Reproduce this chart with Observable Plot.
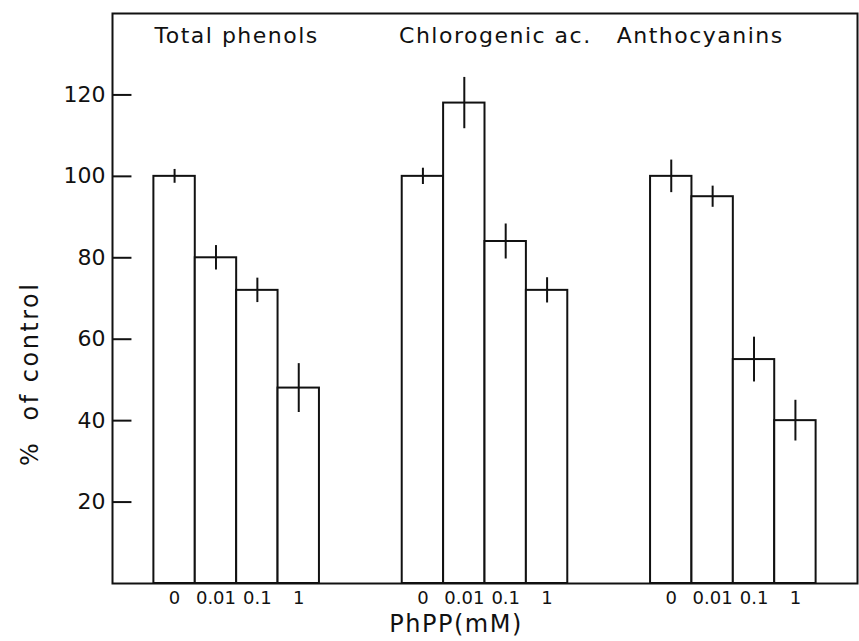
<!DOCTYPE html>
<html>
<head>
<meta charset="utf-8">
<script src="https://cdn.jsdelivr.net/npm/d3@7"></script>
<script src="https://cdn.jsdelivr.net/npm/@observablehq/plot@0.6"></script>
<style>
  html, body { margin: 0; padding: 0; background: #fff; }
  #chart svg { display: block; }
</style>
</head>
<body>
<div id="chart"></div>
<script>
// ---- data ----
const groups = ["Total phenols", "Chlorogenic ac.", "Anthocyanins"];
const doses = ["0", "0.01", "0.1", "1"];
const totalPhenols = [100, 80, 72, 48];
const chlorogenic = [100, 118, 84, 72];
const anthocyanins = [100, 95, 55, 40];
const errTotalPhenols = [1.7, 3, 3, 6];
const errChlorogenic = [2, 6.3, 4.3, 3.1];
const errAnthocyanins = [4, 2.6, 5.5, 5];
const yTicks = [20, 40, 60, 80, 100, 120];
const xLabel = "PhPP(mM)";
const yLabel = "%  of control";

// ---- layout (slot units on the x scale) ----
const slotsPerGroup = 6;      // 4 bars + 2 empty slots
const titleSlot = [3.0, 9.25, 14.2];

const series = [totalPhenols, chlorogenic, anthocyanins];
const errors = [errTotalPhenols, errChlorogenic, errAnthocyanins];
const table = [];
groups.forEach((g, gi) => {
  doses.forEach((d, di) => {
    const x1 = gi * slotsPerGroup + 1 + di;
    table.push({
      group: g, dose: d, value: series[gi][di], err: errors[gi][di],
      x1, x2: x1 + 1, xc: x1 + 0.5
    });
  });
});
const titles = groups.map((g, i) => ({name: g, x: titleSlot[i]}));

const ink = "#111";
const chart = Plot.plot({
  width: 859,
  height: 641,
  marginLeft: 112,
  marginRight: 2,
  marginTop: 13,
  marginBottom: 58,
  style: {fontFamily: "DejaVu Sans", color: ink, background: "#fff"},
  x: {domain: [0, 18], axis: null},
  y: {domain: [0, 140], axis: null},
  marks: [
    Plot.rectY(table, {x1: "x1", x2: "x2", y1: 0, y2: "value", fill: "#fff", stroke: ink, strokeWidth: 2}),
    Plot.ruleX(table, {x: "xc", y1: d => d.value - d.err, y2: d => d.value + d.err, stroke: ink, strokeWidth: 2}),
    Plot.ruleY(yTicks, {x1: 0, x2: 0.47, stroke: ink, strokeWidth: 2}),
    Plot.axisY({ticks: yTicks, tickSize: 0, tickPadding: 7, fontSize: 22, label: null}),
    Plot.text(table, {x: "xc", text: "dose", frameAnchor: "bottom", dy: 20, fontSize: 18, fill: ink}),
    Plot.text(titles, {x: "x", y: 134.5, text: "name", fontSize: 22, fill: ink}),
    Plot.text([xLabel], {x: 8.3, frameAnchor: "bottom", dy: 48, fontSize: 24, fill: ink}),
    Plot.text([yLabel], {x: -1.98, y: 51.5, rotate: -90, fontSize: 24, fill: ink}),
    Plot.frame({stroke: ink, strokeWidth: 2})
  ]
});
// wide letter spacing, as in the typeset original
const spacing = new Map([...groups.map(g => [g, "1.5px"]), [yLabel, "2.5px"], [xLabel, "1.5px"]]);
d3.select(chart).selectAll("text").each(function() {
  const s = spacing.get(this.textContent);
  if (s) d3.select(this).style("letter-spacing", s).style("white-space", "pre");
});
document.getElementById("chart").appendChild(chart);
</script>
</body>
</html>
